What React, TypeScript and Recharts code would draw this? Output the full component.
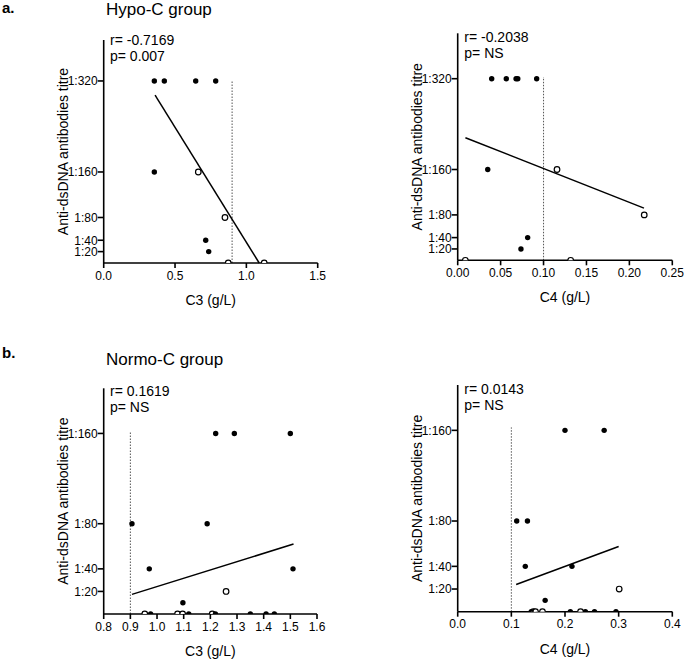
import { ScatterChart, Scatter, XAxis, YAxis, ReferenceLine } from "recharts";

// titre values are plotted on a linear scale (1:20 -> 20 etc.), 0 = negative
const titreTicksHypo = [20, 40, 80, 160, 320];
const titreTicksNormo = [20, 40, 80, 160];

const c3TicksHypo = [0, 0.5, 1.0, 1.5];
const c4TicksHypo = [0, 0.05, 0.1, 0.15, 0.2, 0.25];
const c3TicksNormo = [0.8, 0.9, 1.0, 1.1, 1.2, 1.3, 1.4, 1.5, 1.6];
const c4TicksNormo = [0, 0.1, 0.2, 0.3, 0.4];

// [C level, titre]
const hypoC3Filled = [
  [0.355, 320], [0.425, 320], [0.645, 320], [0.785, 320],
  [0.355, 160], [0.715, 40], [0.736, 20],
];
const hypoC3Open = [[0.663, 160], [0.85, 80], [0.873, 0], [1.125, 0]];
const hypoC3Fit = [[0.36, 295], [1.09, 0]];

const hypoC4Filled = [
  [0.0396, 320], [0.0566, 320], [0.068, 320], [0.07, 320], [0.092, 320],
  [0.035, 160], [0.0815, 40], [0.0737, 20],
];
const hypoC4Open = [[0.1157, 160], [0.2173, 80], [0.0089, 0], [0.1316, 0]];
const hypoC4Fit = [[0.009, 216], [0.217, 92]];

const normoC3Filled = [
  [1.22, 160], [1.29, 160], [1.5, 160],
  [0.906, 80], [1.188, 80],
  [0.971, 40], [1.51, 40],
  [1.097, 10],
  [0.976, 0], [1.119, 0], [1.219, 0], [1.35, 0], [1.409, 0], [1.44, 0],
];
const normoC3Open = [[1.259, 20], [0.954, 0], [1.077, 0], [1.096, 0], [1.207, 0]];
const normoC3Fit = [[0.906, 17.4], [1.512, 62]];

const normoC4Filled = [
  [0.2, 160], [0.273, 160],
  [0.11, 80], [0.13, 80],
  [0.126, 40], [0.213, 40],
  [0.163, 10],
  [0.137, 0], [0.21, 0], [0.238, 0], [0.255, 0], [0.295, 0],
];
const normoC4Open = [[0.301, 20], [0.141, 0], [0.145, 0], [0.158, 0], [0.229, 0]];
const normoC4Fit = [[0.109, 24], [0.3, 57.5]];

const toPoints = (arr: number[][]) => arr.map(([x, y]) => ({ x, y }));

const FilledDot = (props: any) => <circle cx={props.cx} cy={props.cy} r={2.7} fill="#000" />;
const OpenDot = (props: any) => (
  <circle cx={props.cx} cy={props.cy} r={2.8} fill="#fff" stroke="#000" strokeWidth={1.2} />
);

interface PanelProps {
  left: number;
  top: number;
  width: number;
  height: number;
  plotLeft: number;
  plotRight: number;
  plotTop: number;
  plotBottom: number;
  xDomain: [number, number];
  xTicks: number[];
  xDigits: number;
  yDomain: [number, number];
  yTicks: number[];
  filled: number[][];
  open: number[][];
  fit: number[][];
  cutoff: number;
  cutoffTop: number;
  xLabel: string;
  yLabelX: number;
}

function Panel(p: PanelProps) {
  const xAxisHeight = p.height - p.plotBottom;
  const axisStroke = { stroke: "#000", strokeWidth: 1.6 };
  return (
    <div style={{ position: "absolute", left: p.left, top: p.top }}>
      <ScatterChart
        width={p.width}
        height={p.height}
        margin={{ top: p.plotTop, right: p.width - p.plotRight, bottom: 0, left: 0 }}
      >
        <XAxis
          type="number"
          dataKey="x"
          domain={p.xDomain}
          ticks={p.xTicks}
          interval={0}
          allowDataOverflow
          tickFormatter={(v: number) => v.toFixed(p.xDigits)}
          height={xAxisHeight}
          axisLine={axisStroke}
          tickLine={axisStroke}
          tickSize={5}
          tickMargin={3}
          tick={{ fill: "#000", fontSize: 12 }}
          label={{
            value: p.xLabel,
            position: "insideBottom",
            offset: xAxisHeight - 42,
            fill: "#000",
            fontSize: 14,
          }}
        />
        <YAxis
          type="number"
          dataKey="y"
          domain={p.yDomain}
          ticks={p.yTicks}
          interval={0}
          allowDataOverflow
          tickFormatter={(v: number) => `1:${v}`}
          width={p.plotLeft}
          axisLine={axisStroke}
          tickLine={axisStroke}
          tickSize={6}
          tickMargin={0}
          tick={{ fill: "#000", fontSize: 12 }}
          label={{
            value: "Anti-dsDNA antibodies titre",
            angle: -90,
            position: "insideLeft",
            offset: p.yLabelX,
            fill: "#000",
            fontSize: 14,
            style: { textAnchor: "middle" },
          }}
        />
        <ReferenceLine
          segment={[{ x: p.cutoff, y: 0 }, { x: p.cutoff, y: p.cutoffTop }]}
          stroke="#555"
          strokeWidth={1}
          strokeDasharray="1.5 1.5"
        />
        <ReferenceLine
          segment={[
            { x: p.fit[0][0], y: p.fit[0][1] },
            { x: p.fit[1][0], y: p.fit[1][1] },
          ]}
          stroke="#000"
          strokeWidth={1.5}
        />
        <Scatter data={toPoints(p.open)} shape={OpenDot} isAnimationActive={false} />
        <Scatter data={toPoints(p.filled)} shape={FilledDot} isAnimationActive={false} />
      </ScatterChart>
    </div>
  );
}

function Stats({ left, top, r, p }: { left: number; top: number; r: string; p: string }) {
  return (
    <div style={{ position: "absolute", left, top, fontSize: 14, lineHeight: "16px", color: "#000" }}>
      <div>{r}</div>
      <div>{p}</div>
    </div>
  );
}

export default function App() {
  return (
    <div
      style={{
        position: "absolute",
        left: 0,
        top: 0,
        width: 685,
        height: 661,
        background: "#fff",
        fontFamily: "'Liberation Sans', Arial, sans-serif",
        color: "#000",
        overflow: "hidden",
      }}
    >
      <div style={{ position: "absolute", left: 2, top: 0, fontSize: 15, fontWeight: "bold", lineHeight: 1 }}>a.</div>
      <div style={{ position: "absolute", left: 106, top: 0.5, fontSize: 17, lineHeight: 1 }}>Hypo-C group</div>
      <div style={{ position: "absolute", left: 2, top: 344.6, fontSize: 15, fontWeight: "bold", lineHeight: 1 }}>b.</div>
      <div style={{ position: "absolute", left: 106, top: 351, fontSize: 17, lineHeight: 1 }}>Normo-C group</div>

      <Panel
        left={0} top={0} width={340} height={310}
        plotLeft={103.7} plotRight={317.7} plotTop={40} plotBottom={263}
        xDomain={[0, 1.5]} xTicks={c3TicksHypo} xDigits={1}
        yDomain={[0, 392]} yTicks={titreTicksHypo}
        filled={hypoC3Filled} open={hypoC3Open} fit={hypoC3Fit}
        cutoff={0.9} cutoffTop={321}
        xLabel="C3 (g/L)" yLabelX={63.3}
      />
      <Panel
        left={340} top={0} width={345} height={310}
        plotLeft={117.7} plotRight={332.3} plotTop={33.3} plotBottom={260.3}
        xDomain={[0, 0.25]} xTicks={c4TicksHypo} xDigits={2}
        yDomain={[0, 400]} yTicks={titreTicksHypo}
        filled={hypoC4Filled} open={hypoC4Open} fit={hypoC4Fit}
        cutoff={0.1} cutoffTop={323}
        xLabel="C4 (g/L)" yLabelX={76.7}
      />
      <Panel
        left={0} top={340} width={340} height={321}
        plotLeft={103.7} plotRight={317} plotTop={48.3} plotBottom={274}
        xDomain={[0.8, 1.6]} xTicks={c3TicksNormo} xDigits={1}
        yDomain={[0, 200]} yTicks={titreTicksNormo}
        filled={normoC3Filled} open={normoC3Open} fit={normoC3Fit}
        cutoff={0.9} cutoffTop={162}
        xLabel="C3 (g/L)" yLabelX={63.3}
      />
      <Panel
        left={340} top={340} width={345} height={321}
        plotLeft={117.7} plotRight={332.3} plotTop={45} plotBottom={271.7}
        xDomain={[0, 0.4]} xTicks={c4TicksNormo} xDigits={1}
        yDomain={[0, 200]} yTicks={titreTicksNormo}
        filled={normoC4Filled} open={normoC4Open} fit={normoC4Fit}
        cutoff={0.1} cutoffTop={162.6}
        xLabel="C4 (g/L)" yLabelX={76.7}
      />

      <Stats left={110} top={32.4} r="r= -0.7169" p="p= 0.007" />
      <Stats left={464.3} top={28.8} r="r= -0.2038" p="p= NS" />
      <Stats left={110} top={382.8} r="r= 0.1619" p="p= NS" />
      <Stats left={464.3} top={380.5} r="r= 0.0143" p="p= NS" />
    </div>
  );
}
